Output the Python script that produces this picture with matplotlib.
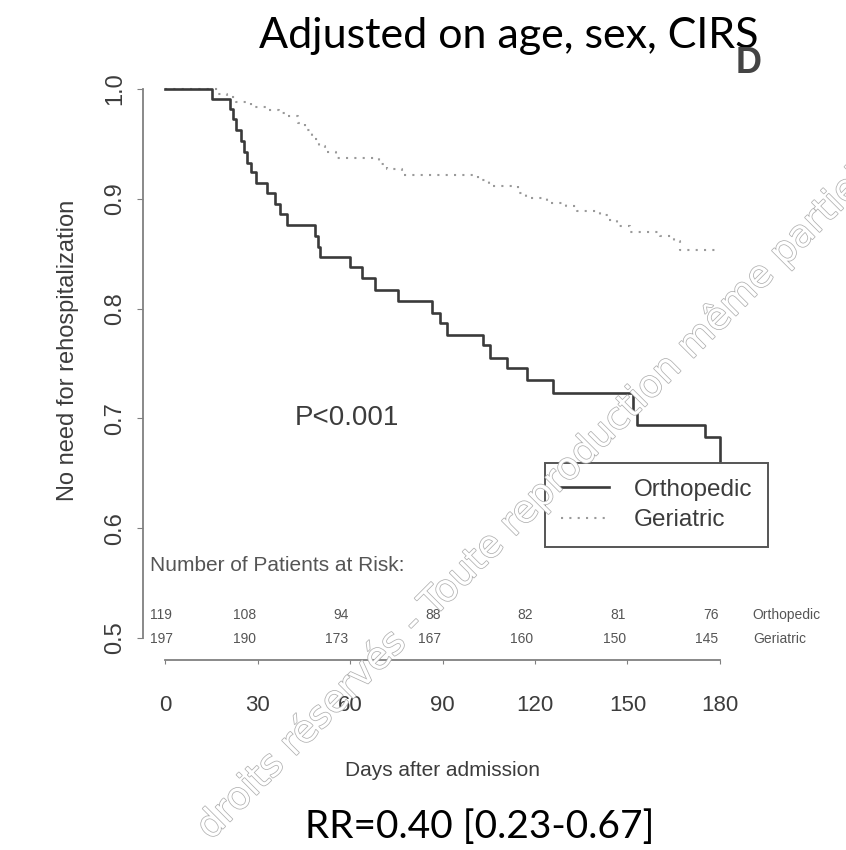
"""Kaplan-Meier style curves: rehospitalization-free survival, orthopedic vs geriatric."""
import matplotlib
matplotlib.use("Agg")
import matplotlib.pyplot as plt
import matplotlib.patheffects as pe
from matplotlib.lines import Line2D

# step curves (day of event, value after the event)
ORTHO_DAYS = [0, 15.2, 21, 22, 23, 24.5, 25.5, 26.5, 28, 29.5, 33, 35.7, 37.3, 39.6,
              48.6, 49.5, 50.3, 60, 63.8, 68, 75.6, 86.5, 89.2, 91.4, 103.2, 105.4,
              110.8, 117.3, 126, 151.9, 153, 175.1, 180]
ORTHO_SURV = [1.0, 0.991, 0.982, 0.973, 0.963, 0.953, 0.943, 0.933, 0.924, 0.914, 0.905,
              0.895, 0.886, 0.876, 0.866, 0.856, 0.847, 0.838, 0.828, 0.817, 0.807, 0.796,
              0.787, 0.776, 0.767, 0.755, 0.746, 0.735, 0.723, 0.705, 0.694, 0.683, 0.655]

GERI_DAYS = [0, 17, 20, 23, 28, 33, 37, 40, 43, 45.5, 47.5, 50, 52, 55.5, 69.5, 72, 77,
             101.5, 105, 114.5, 117, 124, 130, 133.5, 141, 144, 146.5, 151, 160.5, 165, 167, 180]
GERI_SURV = [1.0, 0.995, 0.993, 0.988, 0.984, 0.981, 0.978, 0.975, 0.969, 0.963, 0.954,
             0.948, 0.943, 0.937, 0.932, 0.927, 0.922, 0.917, 0.912, 0.905, 0.901, 0.896,
             0.893, 0.889, 0.885, 0.881, 0.875, 0.870, 0.866, 0.862, 0.853, 0.853]

RISK_TIMES = [0, 30, 60, 90, 120, 150, 180]
RISK_ORTHO = [119, 108, 94, 88, 82, 81, 76]
RISK_GERI = [197, 190, 173, 167, 160, 150, 145]

X_TICKS = [0, 30, 60, 90, 120, 150, 180]
Y_TICKS = [0.5, 0.6, 0.7, 0.8, 0.9, 1.0]

ORTHO_COLOR = "#3a3a3a"
GERI_COLOR = "#9a9a9a"
TEXT_COLOR = "#3c3c3c"

W, H = 846, 850
fig = plt.figure(figsize=(W / 100, H / 100), dpi=100)
plt.rcParams["font.family"] = ["Liberation Sans", "DejaVu Sans"]

ax = fig.add_axes([143 / W, 1 - 660 / H, 599 / W, 593 / H])
ax.set_xlim(-7.2, 187.2)
ax.set_ylim(0.48, 1.02)

ax.step(GERI_DAYS, GERI_SURV, where="post", color=GERI_COLOR, lw=1.5,
        linestyle=(0, (1, 3)), zorder=2)
ax.step(ORTHO_DAYS, ORTHO_SURV, where="post", color=ORTHO_COLOR, lw=1.9, zorder=3)

# R-style detached axes
for side in ("top", "right"):
    ax.spines[side].set_visible(False)
ax.spines["left"].set_bounds(0.5, 1.0)
ax.spines["bottom"].set_bounds(0, 180)
for side in ("left", "bottom"):
    ax.spines[side].set_color("#808080")
    ax.spines[side].set_linewidth(1.3)
ax.set_xticks(X_TICKS)
ax.set_xticklabels([str(t) for t in X_TICKS], fontsize=16, color=TEXT_COLOR)
ax.set_yticks(Y_TICKS)
ax.set_yticklabels([f"{t:.1f}" for t in Y_TICKS], fontsize=17, color=TEXT_COLOR,
                   rotation=90, va="center")
ax.tick_params(axis="x", length=3, color="#808080", pad=22)
ax.tick_params(axis="y", length=4, color="#808080", pad=8)

ax.text(59, 0.7, "P<0.001", fontsize=20, color=TEXT_COLOR, ha="center", va="center")

# patients at risk
ax.text(-4.9, 0.5665, "Number of Patients at Risk:", fontsize=15, color="#555555",
        ha="left", va="center")
for row, (counts, name) in enumerate([(RISK_ORTHO, "Orthopedic"), (RISK_GERI, "Geriatric")]):
    yrow = 0.521 - row * 0.022
    for t, n in zip(RISK_TIMES, counts):
        if t == 0:
            ax.text(-4.9, yrow, str(n), fontsize=10, color="#555555", ha="left", va="center")
        else:
            ax.text(t - 0.5, yrow, str(n), fontsize=10, color="#555555", ha="right", va="center")
    ax.text(190.7, yrow, name, fontsize=10, color="#555555", ha="left", va="center",
            clip_on=False)

handles = [Line2D([], [], color=ORTHO_COLOR, lw=1.9),
           Line2D([], [], color=GERI_COLOR, lw=1.5, linestyle=(0, (1, 3)))]
leg = ax.legend(handles, ["Orthopedic", "Geriatric"], loc="upper left",
                bbox_to_anchor=(545 / W, 1 - 463 / H), bbox_transform=fig.transFigure,
                fontsize=17.5, frameon=True, fancybox=False, borderpad=0.65,
                handlelength=2.0, handletextpad=1.0, labelspacing=0.35, borderaxespad=0)
leg.get_frame().set_edgecolor("#555555")
leg.get_frame().set_linewidth(1.4)
leg.get_frame().set_facecolor("white")
leg.get_frame().set_alpha(1)
leg.set_zorder(5)
for txt in leg.get_texts():
    txt.set_color(TEXT_COLOR)

fig.text(68 / W, 1 - 350 / H, "No need for rehospitalization", rotation=90, fontsize=17,
         color=TEXT_COLOR, ha="center", va="center")
fig.text(442 / W, 1 - 770 / H, "Days after admission", fontsize=15, color=TEXT_COLOR,
         ha="center", va="center")

fig.text(509 / W, 1 - 48 / H, "Adjusted on age, sex, CIRS", fontsize=31,
         family=["Lato", "DejaVu Sans"], color="black", ha="center", va="baseline")
fig.text(749 / W, 1 - 73 / H, "D", fontsize=26, fontweight="bold", color="#444444",
         ha="center", va="baseline")
fig.text(480 / W, 1 - 838 / H, "RR=0.40 [0.23-0.67]", fontsize=28,
         family=["Lato", "DejaVu Sans"], color="black", ha="center", va="baseline")

# diagonal copyright watermark
fig.text(203 / W, 1 - 833 / H, "droits réservés - Toute reproduction même partielle",
         fontsize=27, family=["DejaVu Sans"], color="white", rotation=45,
         rotation_mode="anchor", ha="left", va="center", zorder=10,
         path_effects=[pe.withStroke(linewidth=1.1, foreground="#b0b0b0")])

fig.savefig("out.png", dpi=100)
